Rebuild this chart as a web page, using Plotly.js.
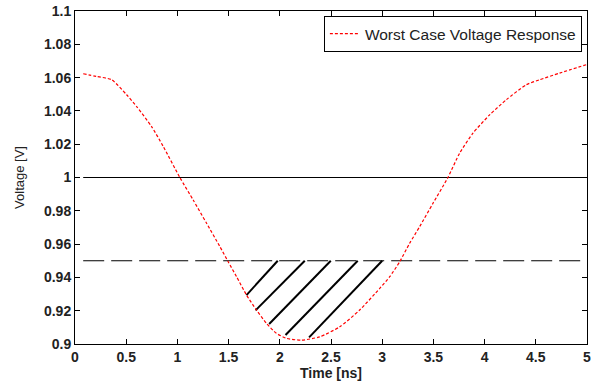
<!DOCTYPE html>
<html>
<head>
<meta charset="utf-8">
<script src="https://cdn.plot.ly/plotly-3.0.1.min.js"></script>
<style>html,body{margin:0;padding:0;background:#fff;}#chart{width:601px;height:384px;}</style>
</head>
<body>
<div id="chart"></div>
<script>
// Worst case voltage response (time in ns, voltage in V)
const timeNs = [0.08, 0.21, 0.358, 0.504, 0.602, 0.748, 0.862, 1.024, 1.154, 1.285, 1.415, 1.496, 1.578, 1.675, 1.772, 1.87, 1.967, 2.065, 2.21, 2.39, 2.585, 2.78, 2.976, 3.073, 3.171, 3.268, 3.366, 3.496, 3.642, 3.756, 3.886, 4.049, 4.212, 4.407, 4.537, 4.732, 4.992];
const voltage = [1.0623, 1.0607, 1.0587, 1.0497, 1.0426, 1.0306, 1.0186, 1.0, 0.9865, 0.9725, 0.9585, 0.9494, 0.9404, 0.9294, 0.9204, 0.9124, 0.9064, 0.9034, 0.9023, 0.9043, 0.9103, 0.9204, 0.9334, 0.9404, 0.9494, 0.9605, 0.9705, 0.9845, 1.0, 1.0146, 1.0266, 1.0376, 1.0467, 1.0557, 1.0587, 1.0627, 1.0677];

// Reference levels
const refX = [0.08, 5];
const nominalV = [1.0, 1.0];
const thresholdV = [0.95, 0.95];

// Hatch segments (start on the curve, end on the threshold line)
const hatchX0 = [1.675, 1.763, 1.896, 2.056, 2.286];
const hatchY0 = [0.9294, 0.9202, 0.912, 0.9054, 0.904];
const hatchX1 = [1.98, 2.244, 2.498, 2.761, 3.0];
const hatchY1 = [0.95, 0.95, 0.95, 0.95, 0.95];

// Tick labels
const xTickVals = [0, 0.5, 1, 1.5, 2, 2.5, 3, 3.5, 4, 4.5, 5];
const xTickText = ['0', '0.5', '1', '1.5', '2', '2.5', '3', '3.5', '4', '4.5', '5'];
const yTickVals = [0.9, 0.92, 0.94, 0.96, 0.98, 1.0, 1.02, 1.04, 1.06, 1.08, 1.1];
const yTickText = ['0.9', '0.92', '0.94', '0.96', '0.98', '1', '1.02', '1.04', '1.06', '1.08', '1.1'];

const hx = [], hy = [];
for (let i = 0; i < hatchX0.length; i++) {
  hx.push(hatchX0[i], hatchX1[i], null);
  hy.push(hatchY0[i], hatchY1[i], null);
}

const FONT = 'Liberation Sans, Arial, sans-serif';

const traces = [
  {x: refX, y: nominalV, mode: 'lines', line: {color: '#000', width: 1}, showlegend: false, hoverinfo: 'skip'},
  {x: refX, y: thresholdV, mode: 'lines', line: {color: '#000', width: 1.2, dash: '21px,7px'}, showlegend: false, hoverinfo: 'skip'},
  {x: hx, y: hy, mode: 'lines', line: {color: '#000', width: 2}, showlegend: false, hoverinfo: 'skip', connectgaps: false},
  {x: timeNs, y: voltage, mode: 'lines', name: 'Worst Case Voltage Response', line: {color: '#ff0000', width: 1.2, dash: '3px,2px', shape: 'spline', smoothing: 0.6}}
];

const axisCommon = {
  showline: true, linecolor: '#000', linewidth: 1, mirror: 'ticks',
  ticks: 'inside', ticklen: 5, tickcolor: '#000', tickwidth: 1,
  showgrid: false, zeroline: false,
  tickfont: {family: FONT, size: 14, color: '#222', weight: 'bold'}
};

const layout = {
  width: 601, height: 384,
  margin: {l: 75, r: 14, t: 11, b: 40},
  paper_bgcolor: '#fff', plot_bgcolor: '#fff',
  xaxis: Object.assign({}, axisCommon, {
    range: [0, 5], tickmode: 'array', tickvals: xTickVals, ticktext: xTickText,
    title: {text: 'Time [ns]', font: {family: FONT, size: 14, color: '#222', weight: 'bold'}, standoff: 3}
  }),
  yaxis: Object.assign({}, axisCommon, {
    range: [0.9, 1.1], tickmode: 'array', tickvals: yTickVals, ticktext: yTickText,
    title: {text: 'Voltage [V]', font: {family: FONT, size: 13, color: '#222'}, standoff: 16}
  }),
  legend: {
    x: 0.99, y: 0.985, xanchor: 'right', yanchor: 'top',
    bgcolor: '#fff', bordercolor: '#000', borderwidth: 1,
    font: {family: FONT, size: 15.5, color: '#222'},
    tracegroupgap: 0
  },
  showlegend: true
};

Plotly.newPlot('chart', traces, layout, {displayModeBar: false, staticPlot: true});
</script>
</body>
</html>
